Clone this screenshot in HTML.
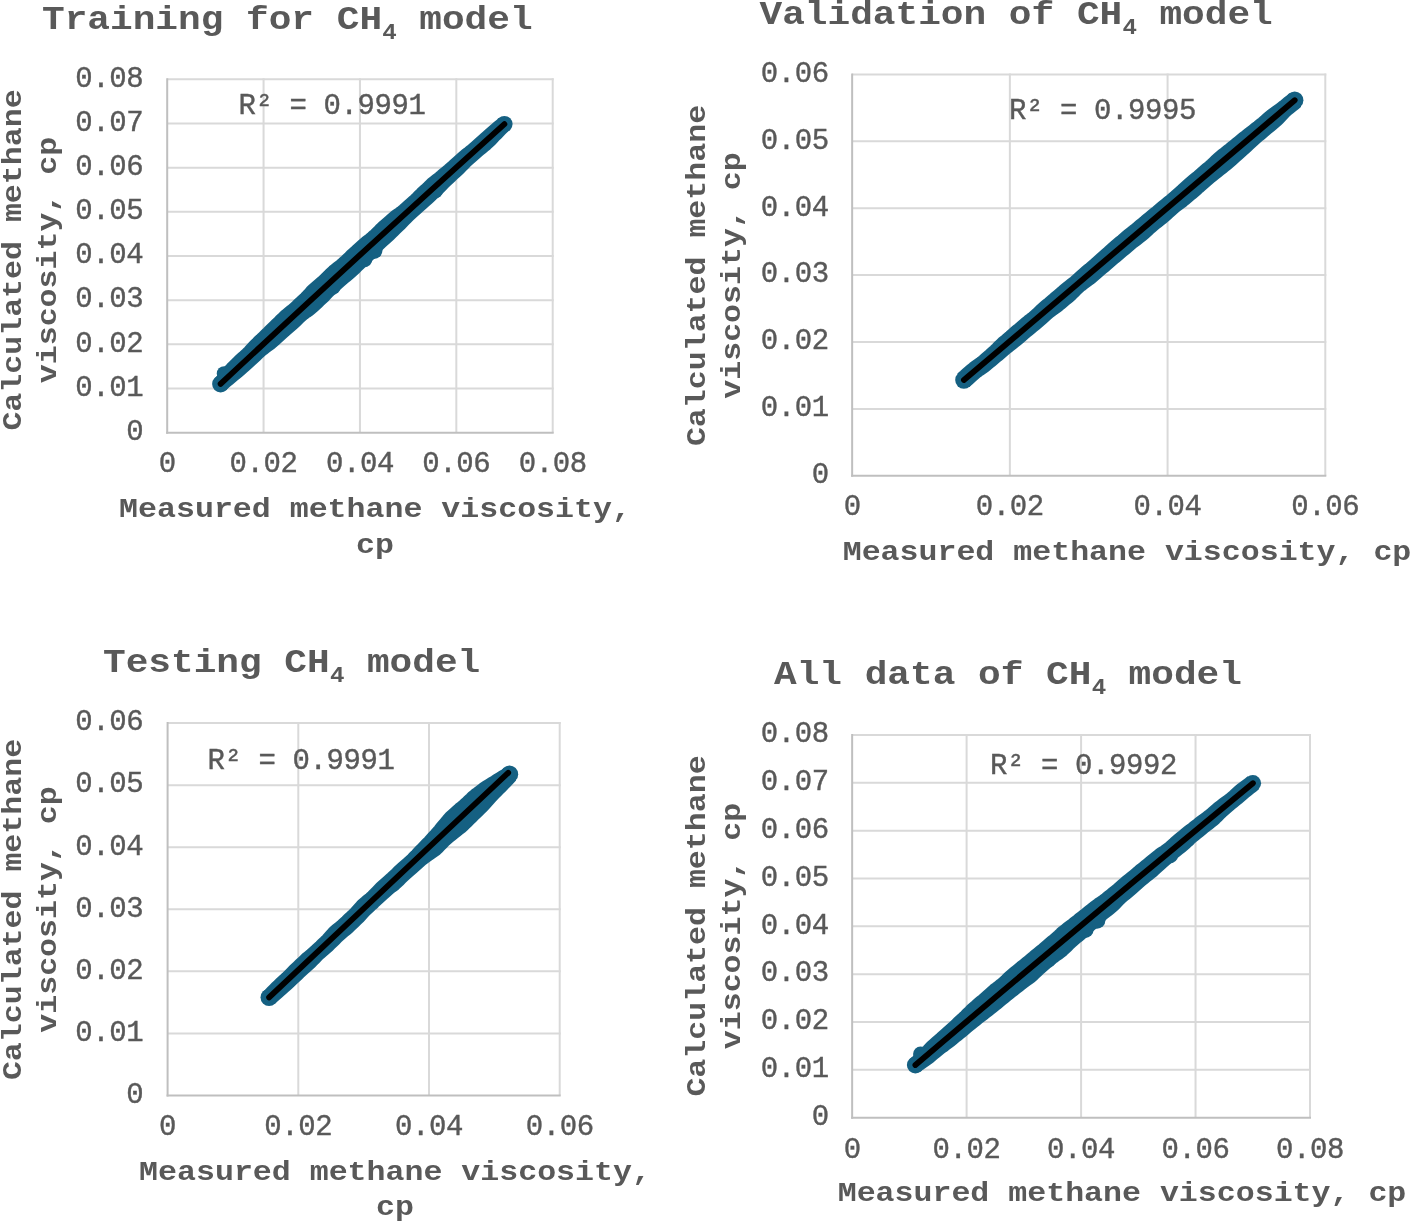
<!DOCTYPE html>
<html><head><meta charset="utf-8"><title>CH4 model</title>
<style>
html,body{margin:0;padding:0;background:#fff;}
svg{display:block}
text{font-family:"Liberation Mono", monospace;fill:#595959;}
.tk{font-size:29px;stroke:#595959;stroke-width:0.4px;letter-spacing:-0.4px;}
.lb{font-size:31.6px;font-weight:bold;}
.ti{font-size:37.8px;font-weight:bold;}
.sub{font-size:24.19px;}
</style></head><body>
<svg width="1412" height="1222" viewBox="0 0 1412 1222">
<rect width="1412" height="1222" fill="#fff"/>
<line x1="167.20" y1="79.30" x2="553.70" y2="79.30" stroke="#d9d9d9" stroke-width="2"/>
<line x1="167.20" y1="123.47" x2="553.70" y2="123.47" stroke="#d9d9d9" stroke-width="2"/>
<line x1="167.20" y1="167.65" x2="553.70" y2="167.65" stroke="#d9d9d9" stroke-width="2"/>
<line x1="167.20" y1="211.82" x2="553.70" y2="211.82" stroke="#d9d9d9" stroke-width="2"/>
<line x1="167.20" y1="256.00" x2="553.70" y2="256.00" stroke="#d9d9d9" stroke-width="2"/>
<line x1="167.20" y1="300.18" x2="553.70" y2="300.18" stroke="#d9d9d9" stroke-width="2"/>
<line x1="167.20" y1="344.35" x2="553.70" y2="344.35" stroke="#d9d9d9" stroke-width="2"/>
<line x1="167.20" y1="388.52" x2="553.70" y2="388.52" stroke="#d9d9d9" stroke-width="2"/>
<line x1="263.57" y1="78.30" x2="263.57" y2="432.70" stroke="#d9d9d9" stroke-width="2"/>
<line x1="359.95" y1="78.30" x2="359.95" y2="432.70" stroke="#d9d9d9" stroke-width="2"/>
<line x1="456.33" y1="78.30" x2="456.33" y2="432.70" stroke="#d9d9d9" stroke-width="2"/>
<line x1="552.70" y1="78.30" x2="552.70" y2="432.70" stroke="#d9d9d9" stroke-width="2"/>
<line x1="167.20" y1="78.30" x2="167.20" y2="433.70" stroke="#bfbfbf" stroke-width="2"/>
<line x1="166.20" y1="432.70" x2="553.70" y2="432.70" stroke="#bfbfbf" stroke-width="2"/>
<text x="143.30" y="86.60" class="tk" text-anchor="end">0.08</text>
<text x="143.30" y="130.78" class="tk" text-anchor="end">0.07</text>
<text x="143.30" y="174.95" class="tk" text-anchor="end">0.06</text>
<text x="143.30" y="219.12" class="tk" text-anchor="end">0.05</text>
<text x="143.30" y="263.30" class="tk" text-anchor="end">0.04</text>
<text x="143.30" y="307.48" class="tk" text-anchor="end">0.03</text>
<text x="143.30" y="351.65" class="tk" text-anchor="end">0.02</text>
<text x="143.30" y="395.82" class="tk" text-anchor="end">0.01</text>
<text x="143.30" y="440.00" class="tk" text-anchor="end">0</text>
<text x="167.20" y="472.40" class="tk" text-anchor="middle">0</text>
<text x="263.57" y="472.40" class="tk" text-anchor="middle">0.02</text>
<text x="359.95" y="472.40" class="tk" text-anchor="middle">0.04</text>
<text x="456.33" y="472.40" class="tk" text-anchor="middle">0.06</text>
<text x="552.70" y="472.40" class="tk" text-anchor="middle">0.08</text>
<text transform="translate(42.00,28.70) scale(1,0.9)" class="ti">Training for CH<tspan class="sub" dx="0.3" dy="11.2">4</tspan><tspan dx="-0.3" dy="-11.2"> model</tspan></text>
<text transform="translate(21.30,260.00) rotate(-90) scale(1,0.88)" class="lb" text-anchor="middle">Calculated methane</text>
<text transform="translate(56.30,260.00) rotate(-90) scale(1,0.88)" class="lb" text-anchor="middle">viscosity, cp</text>
<text transform="translate(375.00,516.80) scale(1,0.88)" class="lb" text-anchor="middle">Measured methane viscosity,</text>
<text transform="translate(375.00,553.00) scale(1,0.88)" class="lb" text-anchor="middle">cp</text>
<path d="M215.8,378.7 L217.8,376.4 L219.7,374.0 L221.5,371.6 L223.4,369.2 L225.5,367.0 L227.5,364.8 L229.6,362.6 L231.8,360.5 L233.9,358.4 L236.1,356.3 L238.3,354.3 L240.6,352.3 L242.8,350.2 L244.9,348.1 L246.9,345.9 L249.0,343.7 L251.1,341.5 L253.2,339.4 L255.3,337.2 L257.5,335.2 L259.7,333.1 L261.9,331.0 L264.0,329.0 L266.2,326.8 L268.3,324.7 L270.4,322.6 L272.6,320.5 L274.8,318.4 L276.9,316.3 L279.1,314.2 L281.2,312.1 L283.5,310.2 L285.8,308.3 L288.2,306.4 L290.5,304.4 L292.7,302.4 L294.9,300.3 L297.1,298.3 L299.3,296.2 L301.5,294.2 L303.6,292.0 L305.6,289.8 L307.6,287.5 L309.7,285.4 L312.0,283.4 L314.3,281.4 L316.6,279.5 L318.9,277.6 L321.1,275.5 L323.2,273.4 L325.4,271.3 L327.5,269.2 L329.7,267.1 L332.0,265.2 L334.4,263.3 L336.8,261.5 L339.1,259.6 L341.3,257.6 L343.5,255.5 L345.7,253.4 L347.8,251.3 L350.1,249.3 L352.3,247.3 L354.5,245.2 L356.7,243.2 L358.9,241.2 L361.2,239.2 L363.5,237.3 L365.9,235.5 L368.3,233.6 L370.5,231.6 L372.7,229.5 L374.8,227.4 L376.9,225.2 L379.1,223.1 L381.3,221.2 L383.6,219.2 L385.9,217.2 L388.1,215.2 L390.4,213.3 L392.8,211.4 L395.3,209.7 L397.7,207.9 L400.0,206.0 L402.3,204.0 L404.5,202.0 L406.8,200.0 L409.0,198.0 L411.3,196.0 L413.4,193.9 L415.5,191.7 L417.7,189.6 L419.9,187.6 L422.1,185.6 L424.3,183.5 L426.4,181.4 L428.6,179.3 L430.9,177.4 L433.3,175.5 L435.7,173.7 L438.0,171.8 L440.3,169.8 L442.6,167.9 L444.9,166.0 L447.2,164.0 L449.5,162.1 L451.7,160.1 L454.0,158.0 L456.2,156.0 L458.4,154.0 L460.7,152.0 L463.0,150.1 L465.4,148.3 L467.8,146.4 L470.0,144.4 L472.3,142.4 L474.5,140.4 L476.7,138.4 L479.0,136.4 L481.2,134.4 L483.5,132.4 L485.7,130.4 L488.0,128.4 L490.3,126.5 L492.6,124.6 L494.9,122.6 L497.2,120.7 L499.5,118.8 L509.0,129.1 L506.9,131.3 L504.8,133.4 L502.7,135.6 L500.6,137.7 L498.4,139.9 L496.4,142.0 L494.3,144.2 L492.1,146.3 L489.9,148.4 L487.6,150.3 L485.3,152.2 L483.0,154.1 L480.7,156.0 L478.4,158.1 L476.2,160.0 L473.9,162.0 L471.6,164.0 L469.4,166.0 L467.3,168.2 L465.2,170.3 L463.1,172.5 L461.0,174.6 L458.8,176.6 L456.5,178.6 L454.3,180.7 L452.1,182.7 L449.9,184.8 L447.8,186.9 L445.7,189.0 L443.5,191.2 L441.4,193.3 L439.2,195.3 L437.0,197.4 L434.8,199.5 L432.7,201.5 L430.5,203.6 L428.2,205.6 L426.0,207.6 L423.7,209.6 L421.5,211.6 L419.3,213.6 L417.0,215.6 L414.8,217.6 L412.6,219.6 L410.4,221.7 L408.3,223.9 L406.2,226.1 L404.1,228.2 L401.9,230.3 L399.8,232.4 L397.6,234.5 L395.5,236.6 L393.3,238.7 L391.1,240.8 L388.9,242.8 L386.6,244.8 L384.4,246.8 L382.3,248.9 L380.2,251.1 L378.2,253.3 L376.1,255.5 L374.0,257.7 L371.8,259.7 L369.6,261.8 L367.4,263.8 L365.2,265.9 L363.1,268.0 L360.9,270.1 L358.8,272.2 L356.6,274.3 L354.4,276.3 L352.1,278.3 L349.8,280.2 L347.5,282.1 L345.2,284.1 L342.9,286.1 L340.7,288.0 L338.4,290.0 L336.1,292.0 L333.9,294.0 L331.8,296.1 L329.7,298.4 L327.7,300.5 L325.5,302.6 L323.3,304.6 L321.1,306.7 L318.9,308.7 L316.7,310.8 L314.4,312.7 L312.0,314.6 L309.5,316.3 L307.1,318.1 L304.8,320.1 L302.6,322.1 L300.4,324.2 L298.3,326.3 L296.1,328.3 L293.8,330.3 L291.5,332.3 L289.2,334.2 L286.9,336.2 L284.7,338.2 L282.5,340.2 L280.3,342.2 L278.1,344.3 L275.8,346.3 L273.5,348.2 L271.0,350.0 L268.6,351.7 L266.2,353.6 L263.9,355.6 L261.7,357.6 L259.5,359.7 L257.3,361.7 L255.1,363.7 L252.9,365.7 L250.7,367.8 L248.5,369.8 L246.2,371.8 L244.0,373.8 L241.7,375.7 L239.3,377.6 L237.0,379.5 L234.7,381.5 L232.4,383.4 L230.1,385.3 L227.8,387.3 L225.5,389.2Z" fill="#156082" stroke="#156082" stroke-width="2" stroke-linejoin="round"/>
<circle cx="220.60" cy="383.90" r="8.50" fill="#156082"/>
<circle cx="504.40" cy="124.10" r="8.20" fill="#156082"/>
<circle cx="224.25" cy="373.65" r="7.50" fill="#156082"/>
<circle cx="373.96" cy="250.56" r="8.50" fill="#156082"/>
<circle cx="363.97" cy="259.03" r="8.50" fill="#156082"/>
<circle cx="332.26" cy="286.50" r="8.50" fill="#156082"/>
<circle cx="434.97" cy="190.71" r="8.00" fill="#156082"/>
<path d="M220.60,383.90 Q361.15,252.52 504.40,124.10" fill="none" stroke="#000" stroke-width="5.8" stroke-linecap="round"/>
<text x="238.50" y="113.90" class="tk">R² = 0.9991</text>
<line x1="852.15" y1="74.40" x2="1326.30" y2="74.40" stroke="#d9d9d9" stroke-width="2"/>
<line x1="852.15" y1="141.30" x2="1326.30" y2="141.30" stroke="#d9d9d9" stroke-width="2"/>
<line x1="852.15" y1="208.20" x2="1326.30" y2="208.20" stroke="#d9d9d9" stroke-width="2"/>
<line x1="852.15" y1="275.10" x2="1326.30" y2="275.10" stroke="#d9d9d9" stroke-width="2"/>
<line x1="852.15" y1="342.00" x2="1326.30" y2="342.00" stroke="#d9d9d9" stroke-width="2"/>
<line x1="852.15" y1="408.90" x2="1326.30" y2="408.90" stroke="#d9d9d9" stroke-width="2"/>
<line x1="1009.87" y1="73.40" x2="1009.87" y2="475.80" stroke="#d9d9d9" stroke-width="2"/>
<line x1="1167.58" y1="73.40" x2="1167.58" y2="475.80" stroke="#d9d9d9" stroke-width="2"/>
<line x1="1325.30" y1="73.40" x2="1325.30" y2="475.80" stroke="#d9d9d9" stroke-width="2"/>
<line x1="852.15" y1="73.40" x2="852.15" y2="476.80" stroke="#bfbfbf" stroke-width="2"/>
<line x1="851.15" y1="475.80" x2="1326.30" y2="475.80" stroke="#bfbfbf" stroke-width="2"/>
<text x="828.70" y="81.70" class="tk" text-anchor="end">0.06</text>
<text x="828.70" y="148.60" class="tk" text-anchor="end">0.05</text>
<text x="828.70" y="215.50" class="tk" text-anchor="end">0.04</text>
<text x="828.70" y="282.40" class="tk" text-anchor="end">0.03</text>
<text x="828.70" y="349.30" class="tk" text-anchor="end">0.02</text>
<text x="828.70" y="416.20" class="tk" text-anchor="end">0.01</text>
<text x="828.70" y="483.10" class="tk" text-anchor="end">0</text>
<text x="852.15" y="515.00" class="tk" text-anchor="middle">0</text>
<text x="1009.87" y="515.00" class="tk" text-anchor="middle">0.02</text>
<text x="1167.58" y="515.00" class="tk" text-anchor="middle">0.04</text>
<text x="1325.30" y="515.00" class="tk" text-anchor="middle">0.06</text>
<text transform="translate(759.50,23.90) scale(1,0.9)" class="ti">Validation of CH<tspan class="sub" dx="0.3" dy="11.2">4</tspan><tspan dx="-0.3" dy="-11.2"> model</tspan></text>
<text transform="translate(705.00,275.50) rotate(-90) scale(1,0.88)" class="lb" text-anchor="middle">Calculated methane</text>
<text transform="translate(740.00,275.50) rotate(-90) scale(1,0.88)" class="lb" text-anchor="middle">viscosity, cp</text>
<text transform="translate(1127.00,560.00) scale(1,0.88)" class="lb" text-anchor="middle">Measured methane viscosity, cp</text>
<path d="M958.6,373.7 L960.9,371.8 L963.1,369.8 L965.4,367.8 L967.7,365.8 L970.0,363.9 L972.4,362.1 L974.9,360.3 L977.3,358.6 L979.7,356.7 L981.9,354.7 L984.2,352.7 L986.5,350.8 L988.7,348.8 L991.0,346.8 L993.1,344.7 L995.2,342.5 L997.4,340.4 L999.6,338.3 L1001.9,336.4 L1004.2,334.4 L1006.5,332.5 L1008.8,330.5 L1011.0,328.6 L1013.3,326.6 L1015.6,324.7 L1017.9,322.7 L1020.2,320.7 L1022.5,318.8 L1024.8,316.9 L1027.2,315.1 L1029.5,313.2 L1031.8,311.2 L1034.0,309.2 L1036.2,307.1 L1038.5,305.1 L1040.7,303.1 L1043.0,301.1 L1045.3,299.2 L1047.6,297.2 L1049.9,295.3 L1052.2,293.3 L1054.4,291.4 L1056.7,289.4 L1059.0,287.5 L1061.3,285.5 L1063.7,283.6 L1066.0,281.8 L1068.4,279.9 L1070.8,278.1 L1073.1,276.1 L1075.3,274.1 L1077.5,272.1 L1079.8,270.1 L1082.0,268.1 L1084.3,266.1 L1086.6,264.2 L1088.9,262.2 L1091.2,260.3 L1093.5,258.3 L1095.7,256.3 L1097.9,254.3 L1100.2,252.2 L1102.4,250.2 L1104.7,248.3 L1106.9,246.2 L1109.1,244.2 L1111.4,242.2 L1113.7,240.2 L1116.0,238.3 L1118.3,236.4 L1120.6,234.4 L1122.8,232.5 L1125.2,230.6 L1127.5,228.7 L1129.9,226.9 L1132.3,225.0 L1134.6,223.1 L1136.9,221.1 L1139.2,219.2 L1141.5,217.3 L1143.8,215.3 L1146.1,213.4 L1148.4,211.5 L1150.8,209.6 L1153.1,207.7 L1155.4,205.7 L1157.7,203.8 L1160.1,201.9 L1162.4,200.0 L1164.7,198.1 L1167.0,196.2 L1169.3,194.2 L1171.6,192.3 L1173.9,190.3 L1176.2,188.3 L1178.4,186.3 L1180.6,184.2 L1182.8,182.2 L1185.0,180.2 L1187.3,178.2 L1189.6,176.3 L1192.0,174.4 L1194.3,172.5 L1196.6,170.5 L1198.8,168.6 L1201.1,166.6 L1203.4,164.6 L1205.7,162.7 L1207.9,160.7 L1210.1,158.6 L1212.3,156.5 L1214.5,154.5 L1216.8,152.5 L1219.1,150.6 L1221.5,148.8 L1223.9,146.9 L1226.2,145.1 L1228.6,143.1 L1230.9,141.2 L1233.2,139.3 L1235.5,137.4 L1237.8,135.5 L1240.2,133.6 L1242.6,131.8 L1245.0,129.9 L1247.3,128.1 L1249.7,126.2 L1252.0,124.3 L1254.4,122.5 L1256.8,120.6 L1259.1,118.7 L1261.4,116.7 L1263.6,114.7 L1265.9,112.7 L1268.3,110.9 L1270.7,109.1 L1273.1,107.3 L1275.6,105.5 L1278.0,103.7 L1280.4,101.9 L1282.7,100.0 L1285.0,98.1 L1287.4,96.2 L1289.7,94.3 L1300.0,106.4 L1297.7,108.4 L1295.4,110.3 L1293.0,112.2 L1290.7,114.1 L1288.5,116.1 L1286.4,118.3 L1284.3,120.5 L1282.2,122.7 L1280.1,124.8 L1277.8,126.8 L1275.5,128.7 L1273.1,130.6 L1270.8,132.5 L1268.5,134.5 L1266.2,136.4 L1263.9,138.4 L1261.6,140.3 L1259.3,142.3 L1257.1,144.3 L1254.9,146.3 L1252.7,148.3 L1250.4,150.4 L1248.2,152.4 L1245.9,154.4 L1243.7,156.4 L1241.5,158.4 L1239.2,160.4 L1237.0,162.4 L1234.8,164.4 L1232.5,166.4 L1230.2,168.4 L1227.9,170.3 L1225.6,172.2 L1223.2,174.0 L1220.8,175.9 L1218.5,177.8 L1216.1,179.7 L1213.8,181.6 L1211.5,183.5 L1209.2,185.4 L1206.9,187.4 L1204.6,189.4 L1202.4,191.4 L1200.2,193.5 L1197.9,195.5 L1195.6,197.4 L1193.3,199.3 L1191.0,201.3 L1188.7,203.2 L1186.4,205.1 L1184.0,206.9 L1181.6,208.7 L1179.2,210.5 L1176.8,212.4 L1174.6,214.4 L1172.3,216.5 L1170.2,218.5 L1167.9,220.5 L1165.6,222.5 L1163.3,224.3 L1160.9,226.2 L1158.5,228.0 L1156.2,229.9 L1153.9,231.9 L1151.7,234.0 L1149.5,236.0 L1147.3,238.0 L1144.9,240.0 L1142.6,241.8 L1140.2,243.6 L1137.8,245.5 L1135.4,247.3 L1133.1,249.3 L1130.8,251.2 L1128.5,253.2 L1126.2,255.1 L1123.9,257.0 L1121.6,259.0 L1119.3,260.9 L1117.0,262.8 L1114.7,264.7 L1112.4,266.7 L1110.1,268.7 L1107.9,270.7 L1105.6,272.6 L1103.3,274.6 L1101.0,276.5 L1098.7,278.5 L1096.4,280.4 L1094.1,282.4 L1091.7,284.2 L1089.3,286.0 L1086.9,287.8 L1084.5,289.6 L1082.2,291.5 L1080.0,293.6 L1077.9,295.8 L1075.7,297.9 L1073.5,299.9 L1071.2,301.9 L1068.9,303.8 L1066.6,305.7 L1064.3,307.7 L1062.0,309.6 L1059.6,311.4 L1057.1,313.2 L1054.7,314.9 L1052.3,316.8 L1050.0,318.8 L1047.8,320.8 L1045.6,322.8 L1043.3,324.8 L1041.0,326.8 L1038.7,328.7 L1036.4,330.6 L1034.1,332.5 L1031.7,334.4 L1029.4,336.3 L1027.1,338.3 L1024.9,340.2 L1022.6,342.2 L1020.2,344.1 L1017.9,346.0 L1015.5,347.9 L1013.2,349.7 L1010.8,351.6 L1008.5,353.6 L1006.2,355.5 L1003.9,357.4 L1001.6,359.4 L999.3,361.3 L997.0,363.2 L994.7,365.2 L992.4,367.1 L990.1,369.0 L987.7,370.9 L985.2,372.6 L982.7,374.3 L980.3,376.1 L978.0,378.0 L975.7,380.0 L973.5,382.0 L971.3,384.1 L969.0,386.0Z" fill="#156082" stroke="#156082" stroke-width="2" stroke-linejoin="round"/>
<circle cx="963.90" cy="380.00" r="8.70" fill="#156082"/>
<circle cx="1294.70" cy="100.20" r="8.70" fill="#156082"/>
<path d="M963.90,380.00 Q1129.30,240.10 1294.70,100.20" fill="none" stroke="#000" stroke-width="5.8" stroke-linecap="round"/>
<text x="1009.00" y="119.10" class="tk">R² = 0.9995</text>
<line x1="167.60" y1="723.10" x2="560.70" y2="723.10" stroke="#d9d9d9" stroke-width="2"/>
<line x1="167.60" y1="785.17" x2="560.70" y2="785.17" stroke="#d9d9d9" stroke-width="2"/>
<line x1="167.60" y1="847.23" x2="560.70" y2="847.23" stroke="#d9d9d9" stroke-width="2"/>
<line x1="167.60" y1="909.30" x2="560.70" y2="909.30" stroke="#d9d9d9" stroke-width="2"/>
<line x1="167.60" y1="971.37" x2="560.70" y2="971.37" stroke="#d9d9d9" stroke-width="2"/>
<line x1="167.60" y1="1033.43" x2="560.70" y2="1033.43" stroke="#d9d9d9" stroke-width="2"/>
<line x1="298.30" y1="722.10" x2="298.30" y2="1095.50" stroke="#d9d9d9" stroke-width="2"/>
<line x1="429.00" y1="722.10" x2="429.00" y2="1095.50" stroke="#d9d9d9" stroke-width="2"/>
<line x1="559.70" y1="722.10" x2="559.70" y2="1095.50" stroke="#d9d9d9" stroke-width="2"/>
<line x1="167.60" y1="722.10" x2="167.60" y2="1096.50" stroke="#bfbfbf" stroke-width="2"/>
<line x1="166.60" y1="1095.50" x2="560.70" y2="1095.50" stroke="#bfbfbf" stroke-width="2"/>
<text x="143.30" y="730.40" class="tk" text-anchor="end">0.06</text>
<text x="143.30" y="792.47" class="tk" text-anchor="end">0.05</text>
<text x="143.30" y="854.53" class="tk" text-anchor="end">0.04</text>
<text x="143.30" y="916.60" class="tk" text-anchor="end">0.03</text>
<text x="143.30" y="978.67" class="tk" text-anchor="end">0.02</text>
<text x="143.30" y="1040.73" class="tk" text-anchor="end">0.01</text>
<text x="143.30" y="1102.80" class="tk" text-anchor="end">0</text>
<text x="167.60" y="1135.00" class="tk" text-anchor="middle">0</text>
<text x="298.30" y="1135.00" class="tk" text-anchor="middle">0.02</text>
<text x="429.00" y="1135.00" class="tk" text-anchor="middle">0.04</text>
<text x="559.70" y="1135.00" class="tk" text-anchor="middle">0.06</text>
<text transform="translate(103.00,672.00) scale(1,0.9)" class="ti">Testing CH<tspan class="sub" dx="0.3" dy="11.2">4</tspan><tspan dx="-0.3" dy="-11.2"> model</tspan></text>
<text transform="translate(21.30,909.50) rotate(-90) scale(1,0.88)" class="lb" text-anchor="middle">Calculated methane</text>
<text transform="translate(56.30,909.50) rotate(-90) scale(1,0.88)" class="lb" text-anchor="middle">viscosity, cp</text>
<text transform="translate(395.00,1179.70) scale(1,0.88)" class="lb" text-anchor="middle">Measured methane viscosity,</text>
<text transform="translate(395.00,1215.30) scale(1,0.88)" class="lb" text-anchor="middle">cp</text>
<path d="M264.1,992.1 L266.2,990.0 L268.3,987.8 L270.4,985.6 L272.5,983.5 L274.7,981.4 L276.9,979.3 L279.1,977.3 L281.3,975.3 L283.5,973.2 L285.6,971.1 L287.8,968.9 L289.9,966.8 L292.0,964.7 L294.2,962.6 L296.4,960.5 L298.6,958.5 L300.8,956.4 L303.0,954.3 L305.3,952.4 L307.6,950.5 L309.9,948.5 L312.1,946.5 L314.3,944.4 L316.5,942.4 L318.7,940.3 L320.9,938.3 L323.0,936.1 L325.0,933.9 L327.0,931.6 L329.1,929.3 L331.2,927.3 L333.5,925.3 L335.8,923.4 L338.2,921.5 L340.4,919.4 L342.6,917.4 L344.8,915.3 L347.0,913.3 L349.2,911.2 L351.3,909.1 L353.3,906.8 L355.3,904.6 L357.4,902.3 L359.5,900.2 L361.8,898.3 L364.1,896.3 L366.4,894.4 L368.6,892.4 L370.8,890.3 L372.9,888.1 L375.0,885.9 L377.1,883.8 L379.3,881.8 L381.6,879.8 L383.9,877.8 L386.1,875.8 L388.3,873.8 L390.5,871.7 L392.7,869.6 L394.8,867.5 L397.0,865.4 L399.2,863.4 L401.5,861.4 L403.8,859.5 L406.1,857.5 L408.3,855.5 L410.4,853.3 L412.5,851.1 L414.5,848.9 L416.6,846.7 L418.7,844.6 L420.8,842.4 L422.9,840.2 L425.0,838.1 L427.0,835.8 L429.0,833.6 L431.1,831.4 L433.1,829.1 L435.1,826.8 L437.0,824.5 L438.9,822.2 L440.9,819.8 L442.9,817.5 L444.8,815.2 L446.8,813.0 L449.1,810.9 L451.3,808.9 L453.5,806.9 L455.8,804.9 L458.2,803.0 L460.5,801.1 L462.7,799.1 L464.8,796.9 L467.0,794.9 L469.2,792.8 L471.5,790.9 L473.9,789.1 L476.3,787.2 L478.8,785.4 L481.1,783.6 L483.7,781.9 L486.3,780.3 L488.9,778.7 L491.6,777.1 L494.1,775.4 L496.7,773.8 L499.4,772.2 L502.0,770.6 L504.6,768.9 L515.0,780.1 L513.0,782.3 L510.9,784.5 L508.8,786.7 L506.8,788.9 L504.7,791.0 L502.5,793.1 L500.4,795.3 L498.3,797.4 L496.2,799.6 L494.1,801.8 L492.1,804.1 L490.1,806.3 L488.1,808.5 L486.0,810.7 L483.9,812.8 L481.7,815.0 L479.6,817.0 L477.4,819.1 L475.3,821.3 L473.1,823.4 L471.0,825.5 L468.8,827.6 L466.6,829.7 L464.4,831.7 L462.0,833.5 L459.6,835.4 L457.3,837.3 L454.9,839.2 L452.6,841.1 L450.3,843.0 L448.0,845.0 L445.9,847.2 L443.8,849.4 L441.8,851.5 L439.6,853.6 L437.1,855.4 L434.6,857.1 L432.1,858.9 L429.6,860.6 L427.2,862.4 L424.8,864.3 L422.6,866.3 L420.4,868.3 L418.1,870.3 L415.9,872.3 L413.6,874.3 L411.3,876.2 L409.0,878.2 L406.8,880.3 L404.7,882.4 L402.6,884.6 L400.4,886.6 L398.2,888.6 L395.8,890.5 L393.3,892.3 L391.0,894.2 L388.8,896.2 L386.5,898.2 L384.3,900.3 L382.1,902.3 L379.9,904.3 L377.7,906.4 L375.5,908.4 L373.3,910.5 L371.1,912.5 L368.9,914.6 L366.8,916.8 L364.8,919.1 L362.8,921.3 L360.6,923.4 L358.4,925.5 L356.3,927.5 L354.1,929.6 L351.9,931.7 L349.6,933.7 L347.3,935.6 L345.0,937.5 L342.7,939.5 L340.5,941.5 L338.4,943.7 L336.3,945.8 L334.1,947.9 L332.0,950.0 L329.7,952.0 L327.4,954.0 L325.1,955.9 L322.8,957.9 L320.7,960.0 L318.6,962.2 L316.5,964.4 L314.4,966.5 L312.2,968.6 L310.0,970.6 L307.7,972.6 L305.5,974.6 L303.3,976.6 L301.1,978.7 L298.9,980.8 L296.7,982.9 L294.6,984.9 L292.3,987.0 L290.1,989.0 L287.8,991.0 L285.6,993.0 L283.3,995.0 L281.1,997.0 L278.8,998.9 L276.5,1000.9 L274.3,1002.9Z" fill="#156082" stroke="#156082" stroke-width="2" stroke-linejoin="round"/>
<circle cx="269.10" cy="997.40" r="8.60" fill="#156082"/>
<circle cx="509.50" cy="774.18" r="8.70" fill="#156082"/>
<path d="M269.10,997.40 Q388.65,885.10 508.20,772.80" fill="none" stroke="#000" stroke-width="5.8" stroke-linecap="round"/>
<text x="207.50" y="768.80" class="tk">R² = 0.9991</text>
<line x1="852.15" y1="735.00" x2="1311.00" y2="735.00" stroke="#d9d9d9" stroke-width="2"/>
<line x1="852.15" y1="782.84" x2="1311.00" y2="782.84" stroke="#d9d9d9" stroke-width="2"/>
<line x1="852.15" y1="830.67" x2="1311.00" y2="830.67" stroke="#d9d9d9" stroke-width="2"/>
<line x1="852.15" y1="878.51" x2="1311.00" y2="878.51" stroke="#d9d9d9" stroke-width="2"/>
<line x1="852.15" y1="926.35" x2="1311.00" y2="926.35" stroke="#d9d9d9" stroke-width="2"/>
<line x1="852.15" y1="974.19" x2="1311.00" y2="974.19" stroke="#d9d9d9" stroke-width="2"/>
<line x1="852.15" y1="1022.03" x2="1311.00" y2="1022.03" stroke="#d9d9d9" stroke-width="2"/>
<line x1="852.15" y1="1069.86" x2="1311.00" y2="1069.86" stroke="#d9d9d9" stroke-width="2"/>
<line x1="966.61" y1="734.00" x2="966.61" y2="1117.70" stroke="#d9d9d9" stroke-width="2"/>
<line x1="1081.08" y1="734.00" x2="1081.08" y2="1117.70" stroke="#d9d9d9" stroke-width="2"/>
<line x1="1195.54" y1="734.00" x2="1195.54" y2="1117.70" stroke="#d9d9d9" stroke-width="2"/>
<line x1="1310.00" y1="734.00" x2="1310.00" y2="1117.70" stroke="#d9d9d9" stroke-width="2"/>
<line x1="852.15" y1="734.00" x2="852.15" y2="1118.70" stroke="#bfbfbf" stroke-width="2"/>
<line x1="851.15" y1="1117.70" x2="1311.00" y2="1117.70" stroke="#bfbfbf" stroke-width="2"/>
<text x="828.70" y="742.30" class="tk" text-anchor="end">0.08</text>
<text x="828.70" y="790.14" class="tk" text-anchor="end">0.07</text>
<text x="828.70" y="837.97" class="tk" text-anchor="end">0.06</text>
<text x="828.70" y="885.81" class="tk" text-anchor="end">0.05</text>
<text x="828.70" y="933.65" class="tk" text-anchor="end">0.04</text>
<text x="828.70" y="981.49" class="tk" text-anchor="end">0.03</text>
<text x="828.70" y="1029.33" class="tk" text-anchor="end">0.02</text>
<text x="828.70" y="1077.16" class="tk" text-anchor="end">0.01</text>
<text x="828.70" y="1125.00" class="tk" text-anchor="end">0</text>
<text x="852.15" y="1157.50" class="tk" text-anchor="middle">0</text>
<text x="966.61" y="1157.50" class="tk" text-anchor="middle">0.02</text>
<text x="1081.08" y="1157.50" class="tk" text-anchor="middle">0.04</text>
<text x="1195.54" y="1157.50" class="tk" text-anchor="middle">0.06</text>
<text x="1310.00" y="1157.50" class="tk" text-anchor="middle">0.08</text>
<text transform="translate(774.00,683.70) scale(1,0.9)" class="ti">All data of CH<tspan class="sub" dx="0.3" dy="11.2">4</tspan><tspan dx="-0.3" dy="-11.2"> model</tspan></text>
<text transform="translate(705.00,926.00) rotate(-90) scale(1,0.88)" class="lb" text-anchor="middle">Calculated methane</text>
<text transform="translate(740.00,926.00) rotate(-90) scale(1,0.88)" class="lb" text-anchor="middle">viscosity, cp</text>
<text transform="translate(1122.00,1201.00) scale(1,0.88)" class="lb" text-anchor="middle">Measured methane viscosity, cp</text>
<path d="M910.8,1059.5 L913.0,1057.4 L915.1,1055.3 L917.3,1053.2 L919.5,1051.1 L921.7,1049.0 L923.8,1046.9 L925.9,1044.7 L928.0,1042.5 L930.3,1040.5 L932.5,1038.5 L934.8,1036.5 L937.1,1034.6 L939.3,1032.6 L941.6,1030.6 L943.8,1028.6 L946.1,1026.6 L948.3,1024.6 L950.6,1022.5 L952.7,1020.5 L954.9,1018.3 L957.1,1016.2 L959.3,1014.2 L961.5,1012.1 L963.6,1010.0 L965.8,1007.9 L967.9,1005.8 L970.2,1003.7 L972.5,1001.8 L974.7,999.8 L977.0,997.8 L979.3,995.9 L981.6,993.9 L983.8,991.9 L986.1,989.9 L988.3,987.9 L990.6,985.9 L993.0,984.1 L995.4,982.2 L997.7,980.4 L1000.0,978.4 L1002.2,976.4 L1004.4,974.3 L1006.6,972.2 L1008.9,970.2 L1011.2,968.3 L1013.5,966.4 L1015.9,964.5 L1018.2,962.6 L1020.6,960.7 L1022.9,958.8 L1025.2,956.9 L1027.5,955.0 L1029.9,953.1 L1032.2,951.1 L1034.5,949.2 L1036.8,947.3 L1039.1,945.4 L1041.4,943.4 L1043.7,941.5 L1046.0,939.5 L1048.3,937.6 L1050.6,935.7 L1052.9,933.7 L1055.1,931.7 L1057.3,929.6 L1059.6,927.6 L1062.0,925.7 L1064.3,923.9 L1066.7,922.0 L1069.1,920.2 L1071.5,918.3 L1073.9,916.5 L1076.2,914.6 L1078.6,912.7 L1081.0,910.9 L1083.3,909.0 L1085.7,907.1 L1088.0,905.2 L1090.4,903.4 L1092.8,901.5 L1095.2,899.7 L1097.7,898.0 L1100.2,896.3 L1102.6,894.5 L1104.9,892.6 L1107.3,890.7 L1109.6,888.8 L1111.9,886.9 L1114.3,885.0 L1116.6,883.0 L1118.8,881.0 L1121.1,879.1 L1123.4,877.1 L1125.7,875.2 L1128.1,873.3 L1130.4,871.4 L1132.7,869.5 L1135.0,867.6 L1137.3,865.6 L1139.7,863.7 L1142.0,861.8 L1144.3,859.9 L1146.6,858.0 L1149.0,856.1 L1151.3,854.2 L1153.7,852.3 L1156.0,850.4 L1158.5,848.7 L1161.1,847.1 L1163.5,845.3 L1165.9,843.5 L1168.2,841.5 L1170.4,839.5 L1172.6,837.4 L1174.9,835.5 L1177.3,833.6 L1179.6,831.7 L1181.9,829.8 L1184.3,827.9 L1186.6,826.0 L1189.0,824.2 L1191.4,822.3 L1193.8,820.5 L1196.2,818.6 L1198.5,816.8 L1201.0,815.0 L1203.4,813.2 L1205.8,811.4 L1208.1,809.5 L1210.4,807.5 L1212.7,805.6 L1215.0,803.6 L1217.4,801.7 L1219.8,799.9 L1222.2,798.1 L1224.7,796.4 L1227.1,794.5 L1229.4,792.6 L1231.6,790.5 L1233.8,788.5 L1236.0,786.5 L1238.4,784.6 L1240.8,782.8 L1243.2,781.0 L1245.6,779.2 L1248.0,777.4 L1257.7,789.0 L1255.4,790.9 L1253.0,792.7 L1250.6,794.6 L1248.3,796.5 L1246.0,798.5 L1243.7,800.4 L1241.4,802.4 L1239.1,804.3 L1236.8,806.2 L1234.5,808.1 L1232.2,810.1 L1229.9,812.0 L1227.6,814.0 L1225.3,816.0 L1223.2,818.1 L1221.1,820.3 L1218.9,822.4 L1216.6,824.4 L1214.3,826.2 L1211.9,828.1 L1209.5,829.9 L1207.2,831.8 L1204.9,833.7 L1202.5,835.6 L1200.2,837.5 L1197.8,839.4 L1195.5,841.3 L1193.3,843.4 L1191.1,845.4 L1188.9,847.5 L1186.6,849.5 L1184.3,851.4 L1181.9,853.2 L1179.5,855.1 L1177.2,857.0 L1174.9,858.9 L1172.6,860.9 L1170.3,862.8 L1168.0,864.8 L1165.7,866.7 L1163.5,868.7 L1161.2,870.8 L1159.0,872.8 L1156.8,874.9 L1154.5,876.8 L1152.1,878.6 L1149.7,880.5 L1147.4,882.4 L1145.1,884.3 L1142.8,886.3 L1140.6,888.3 L1138.3,890.3 L1136.1,892.3 L1133.8,894.3 L1131.5,896.2 L1129.1,898.1 L1126.8,900.0 L1124.5,902.0 L1122.4,904.1 L1120.3,906.3 L1118.2,908.5 L1116.0,910.6 L1113.7,912.5 L1111.3,914.4 L1108.9,916.2 L1106.6,918.1 L1104.3,920.0 L1102.1,922.1 L1099.8,924.1 L1097.6,926.1 L1095.4,928.1 L1093.1,930.1 L1090.9,932.2 L1088.7,934.2 L1086.4,936.2 L1084.2,938.2 L1081.9,940.2 L1079.6,942.1 L1077.3,944.0 L1075.0,946.1 L1072.8,948.1 L1070.7,950.2 L1068.5,952.3 L1066.3,954.4 L1064.0,956.3 L1061.5,958.1 L1059.1,959.8 L1056.6,961.6 L1054.3,963.5 L1052.0,965.4 L1049.6,967.3 L1047.3,969.3 L1045.0,971.2 L1042.7,973.2 L1040.6,975.3 L1038.4,977.4 L1036.2,979.5 L1033.9,981.4 L1031.5,983.2 L1029.0,984.9 L1026.6,986.7 L1024.3,988.6 L1021.9,990.5 L1019.5,992.3 L1017.1,994.1 L1014.7,996.0 L1012.3,997.9 L1010.0,999.8 L1007.7,1001.7 L1005.4,1003.6 L1003.0,1005.5 L1000.7,1007.4 L998.4,1009.3 L996.0,1011.2 L993.7,1013.1 L991.3,1015.0 L988.9,1016.8 L986.5,1018.6 L984.1,1020.4 L981.7,1022.3 L979.4,1024.2 L977.1,1026.1 L974.7,1028.0 L972.4,1029.8 L970.0,1031.7 L967.7,1033.7 L965.4,1035.7 L963.1,1037.6 L960.8,1039.5 L958.4,1041.3 L956.1,1043.2 L953.7,1045.1 L951.3,1047.0 L948.9,1048.8 L946.5,1050.6 L944.1,1052.3 L941.7,1054.2 L939.3,1056.1 L937.0,1058.0 L934.7,1059.9 L932.4,1061.9 L930.0,1063.7 L927.5,1065.4 L925.0,1067.1 L922.5,1068.8 L920.1,1070.6Z" fill="#156082" stroke="#156082" stroke-width="2" stroke-linejoin="round"/>
<circle cx="915.40" cy="1065.00" r="8.50" fill="#156082"/>
<circle cx="1252.90" cy="783.20" r="8.20" fill="#156082"/>
<circle cx="920.57" cy="1054.04" r="7.50" fill="#156082"/>
<circle cx="1096.93" cy="920.20" r="8.50" fill="#156082"/>
<circle cx="1085.14" cy="929.40" r="8.50" fill="#156082"/>
<circle cx="1047.61" cy="959.23" r="8.50" fill="#156082"/>
<circle cx="1169.97" cy="855.38" r="8.00" fill="#156082"/>
<path d="M915.40,1065.00 Q1082.87,922.56 1252.90,783.20" fill="none" stroke="#000" stroke-width="5.8" stroke-linecap="round"/>
<text x="990.00" y="773.70" class="tk">R² = 0.9992</text>
</svg>
</body></html>
